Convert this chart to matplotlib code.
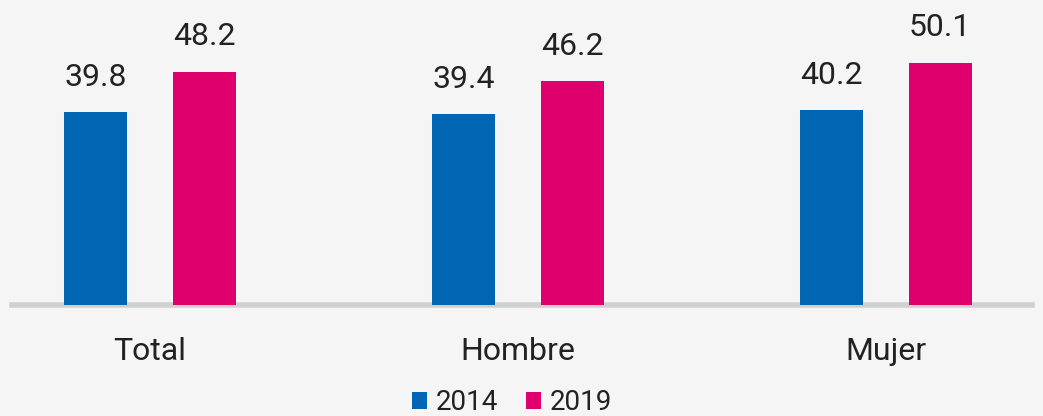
import matplotlib
matplotlib.use('Agg')
import matplotlib.pyplot as plt
import numpy as np

plt.rcParams['font.family'] = ['Roboto', 'DejaVu Sans']

# datos
categorias = ['Total', 'Hombre', 'Mujer']
anios = ['2014', '2019']
valores_2014 = [39.8, 39.4, 40.2]
valores_2019 = [48.2, 46.2, 50.1]

azul = '#0066b3'
magenta = '#e0006d'
fondo = '#f5f5f5'
texto = '#222222'

fig = plt.figure(figsize=(10.43, 4.16), dpi=100, facecolor=fondo)
# eje ocupa todo el ancho; la base queda a 111 px del borde inferior
ax = fig.add_axes([0, 111 / 416, 1, 305 / 416])
ax.set_facecolor(fondo)

x = np.arange(len(categorias))
ancho = 0.171
sep = 0.147

b1 = ax.bar(x - sep, valores_2014, ancho, color=azul, label=anios[0], zorder=3)
b2 = ax.bar(x + sep, valores_2019, ancho, color=magenta, label=anios[1], zorder=3)

for barras in (b1, b2):
    for r in barras:
        ax.annotate(f'{r.get_height():.1f}', (r.get_x() + r.get_width() / 2, r.get_height()),
                    xytext=(0, 19), textcoords='offset points', ha='center', va='baseline',
                    fontsize=23, color=texto)

# linea base gris
ax.axhline(0, xmin=12 / 1043, xmax=1032 / 1043, color='#cfd1d1', lw=4, zorder=2, clip_on=False)

ax.set_xlim(-150 / 368, (1043 - 150) / 368)
ax.set_ylim(0, 305 / 4.84)

ax.set_xticks(x)
ax.set_xticklabels(categorias, fontsize=23, color=texto)
ax.tick_params(axis='x', length=0, pad=23)
ax.set_yticks([])
for s in ax.spines.values():
    s.set_visible(False)

fig.legend(handles=[b1, b2], labels=anios, loc='center', bbox_to_anchor=(512 / 1043, 13 / 416),
           ncol=2, frameon=False, fontsize=20, handlelength=0.55, handleheight=0.55,
           handletextpad=0.3, columnspacing=1.0, labelcolor=texto)

fig.savefig('out.png', dpi=100, facecolor=fondo)
